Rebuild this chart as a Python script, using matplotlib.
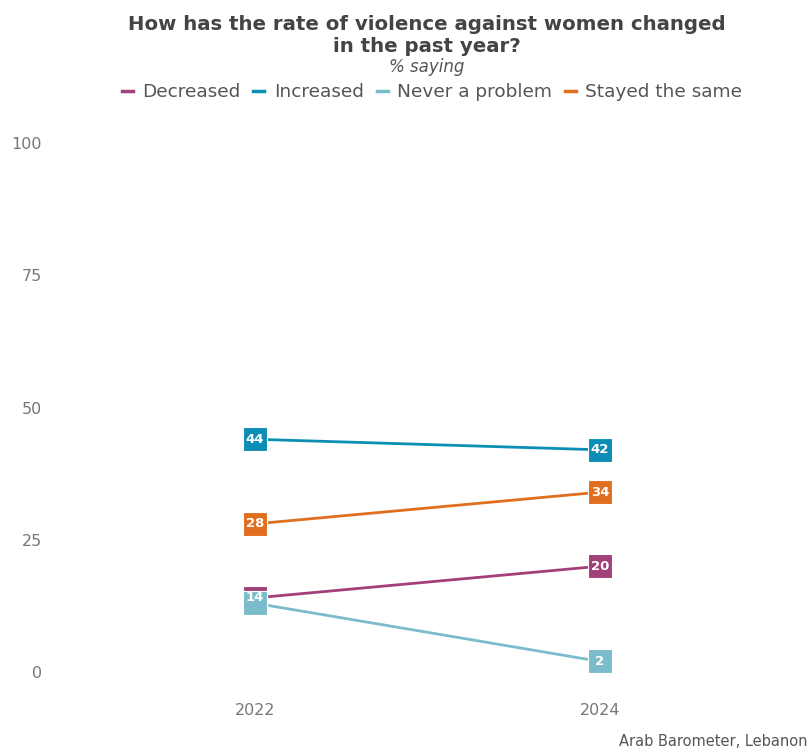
import matplotlib
matplotlib.use("Agg")
import matplotlib.pyplot as plt
from matplotlib.lines import Line2D

plt.rcParams['font.family'] = ['DejaVu Sans']

years = ["2022", "2024"]
series = ["Decreased", "Increased", "Never a problem", "Stayed the same"]
decreased = [14, 20]
increased = [44, 42]
never_problem = [13, 2]
stayed_same = [28, 34]
values = [decreased, increased, never_problem, stayed_same]
colors = ["#A3407A", "#0C8EB4", "#7ABCCB", "#E0701F"]
# which point labels are shown (overlapping labels are hidden)
show_label = [[True, True], [True, True], [False, True], [True, True]]

fig = plt.figure(figsize=(8.12, 7.51), dpi=100)
W, H = 812, 751
left_px, right_px = 50, 800
top_px, bottom_px = 143, 672
ax = fig.add_axes([left_px / W, (H - bottom_px) / H,
                   (right_px - left_px) / W, (bottom_px - top_px) / H])

x = list(range(len(years)))
span = 750 / 345
xmin = -205 / 345
ax.set_xlim(xmin, xmin + span)
ax.set_ylim(0, 100)

draw_order = [0, 1, 3, 2]
for z, i in enumerate(draw_order):
    ax.plot(x, values[i], color=colors[i], lw=2.0, zorder=2 + z, clip_on=False,
            solid_capstyle='butt')
    ax.plot(x, values[i], ls='none', marker='s', ms=17, mfc=colors[i],
            mec='white', mew=0.8, zorder=10 + z, clip_on=False)
for i in range(len(series)):
    for xi, v in zip(x, values[i]):
        if show_label[i][xi]:
            ax.text(xi, v, f"{v}", color='white', fontsize=9.5, fontweight='bold',
                    ha='center', va='center', zorder=20)

ax.set_xticks(x)
ax.set_xticklabels(years)
ax.set_yticks([0, 25, 50, 75, 100])
ax.tick_params(length=0, labelsize=11.5, labelcolor='#777777')
ax.tick_params(axis='x', pad=22)
ax.tick_params(axis='y', pad=6)
for s in ax.spines.values():
    s.set_visible(False)

fig.text(0.526, 1 - 24 / H, "How has the rate of violence against women changed",
         ha='center', va='center', fontsize=14.2, fontweight='bold', color='#444444')
fig.text(0.526, 1 - 46 / H, "in the past year?",
         ha='center', va='center', fontsize=14.2, fontweight='bold', color='#444444')
fig.text(0.526, 1 - 67 / H, "% saying", ha='center', va='center',
         fontsize=12, style='italic', color='#555555')

handles = [Line2D([0], [0], color=c, lw=2.5) for c in colors]
fig.legend(handles, series, loc='center', bbox_to_anchor=(0.532, 1 - 92 / H),
           ncol=4, frameon=False, fontsize=13.3, handlelength=0.6,
           handletextpad=0.5, columnspacing=0.7, labelcolor='#555555')

fig.text(1 - 4 / W, 1 - 742 / H, "Arab Barometer, Lebanon", ha='right',
         va='center', fontsize=10.5, color='#555555')

fig.savefig("out.png", dpi=100, facecolor='white')
